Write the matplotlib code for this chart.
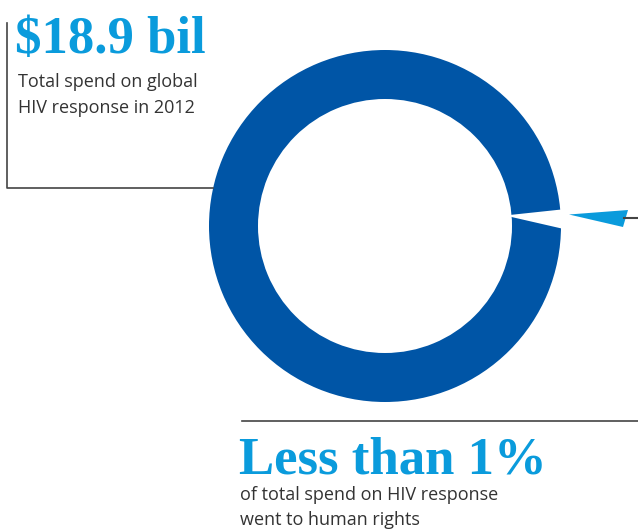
import matplotlib
matplotlib.use("Agg")
import matplotlib.pyplot as plt
from matplotlib.patches import Wedge, Polygon

# data
total_spend_bil = 18.9
year = 2012
human_rights_share = 1  # percent, "less than"

dark_blue = "#0055a6"
light_blue = "#0a9bdc"
text_grey = "#333333"
line_grey = "#444444"

fig = plt.figure(figsize=(6.38, 5.29), dpi=100)
ax = fig.add_axes([0, 0, 1, 1])
ax.set_xlim(0, 638)
ax.set_ylim(529, 0)
ax.set_aspect("equal")
ax.axis("off")

# ring
cx, cy, r_out, ring_w = 385, 226, 176, 49
ax.add_patch(Wedge((cx, cy), r_out, 0, 360, width=ring_w, color=dark_blue, lw=0))

# gap cut out of the ring
ax.add_patch(Polygon([(505, 215.5), (566, 209), (566, 229.5)], closed=True,
                     color="white", lw=0))

# pulled-out slice (the 1%)
ax.add_patch(Polygon([(569, 214.5), (628, 210), (623, 227)], closed=True,
                     color=light_blue, lw=0))
ax.plot([624, 638], [218, 218], color=line_grey, lw=1.5)

# bracket lines
ax.plot([7, 7, 213], [23, 188, 188], color=line_grey, lw=1.2)
ax.plot([242, 638], [421, 421], color=line_grey, lw=1.2)

# texts
head = dict(color=light_blue, fontsize=38, fontweight="bold",
            family="Liberation Serif", va="baseline")
body = dict(color=text_grey, fontsize=13, family="Open Sans", va="baseline")

ax.text(15, 53, f"${total_spend_bil} bil", **head)
ax.text(18, 87, "Total spend on global", **body)
ax.text(18, 113, f"HIV response in {year}", **body)

ax.text(239, 473, f"Less than {human_rights_share}%", **head)
ax.text(240, 500, "of total spend on HIV response", **body)
ax.text(240, 525, "went to human rights", **body)

fig.savefig("out.png", dpi=100)
